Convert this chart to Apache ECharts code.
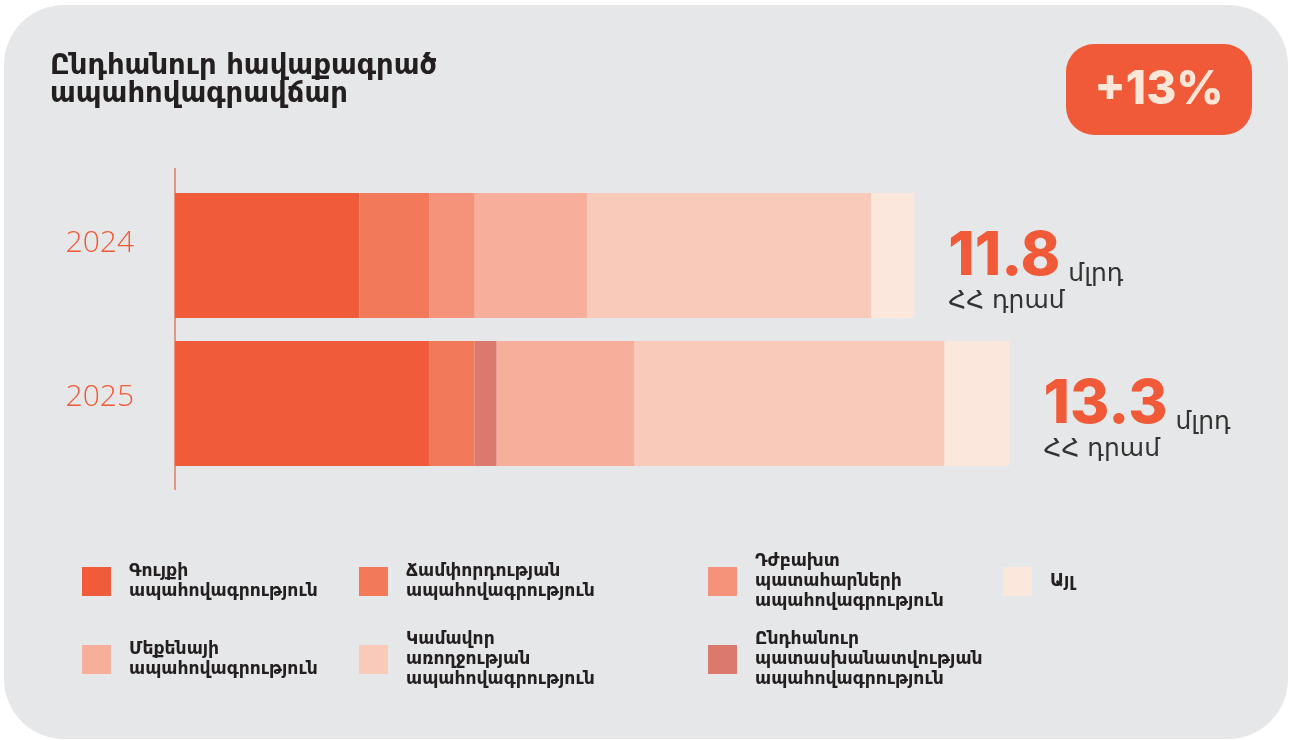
<!DOCTYPE html>
<html>
<head>
<meta charset="utf-8">
<script src="https://cdn.jsdelivr.net/npm/echarts@6/dist/echarts.min.js"></script>
<style>
  html, body { margin: 0; padding: 0; background: #fff; }
  #chart { width: 1290px; height: 740px; }
</style>
</head>
<body>
<div id="chart"></div>
<script>
// values in bln AMD
const years = ['2024', '2025'];
const property = [2.94, 4.05];
const travel = [1.12, 0.73];
const accident = [0.72, 0];
const liability = [0, 0.35];
const car = [1.79, 2.20];
const health = [4.53, 4.94];
const other = [0.69, 1.04];
const totals = [11.8, 13.3];
const growth = '+13%';

const ARM = "'DejaVu Sans', sans-serif";
const ORANGE = '#F05A38';

const names = {
  property: 'Գույքի\nապահովագրություն',
  travel: 'Ճամփորդության\nապահովագրություն',
  accident: 'Դժբախտ\nպատահարների\nապահովագրություն',
  liability: 'Ընդհանուր\nպատասխանատվության\nապահովագրություն',
  car: 'Մեքենայի\nապահովագրություն',
  health: 'Կամավոր\nառողջության\nապահովագրություն',
  other: 'Այլ'
};

const colors = {
  property: '#F05B39',
  travel: '#F27A5B',
  accident: '#F5937A',
  liability: '#DB7A6C',
  car: '#F7AF9C',
  health: '#F9C9BA',
  other: '#FBE7DB'
};

const seriesOrder = [
  ['property', property],
  ['travel', travel],
  ['accident', accident],
  ['liability', liability],
  ['car', car],
  ['health', health],
  ['other', other]
];

const series = seriesOrder.map(([key, data]) => {
  const s = {
    name: names[key],
    type: 'bar',
    stack: 'total',
    barWidth: 125,
    data: data,
    itemStyle: { color: colors[key] },
    emphasis: { disabled: true }
  };
  if (key === 'other') {
    s.label = {
      show: true,
      position: 'right',
      distance: 34,
      offset: [0, 16],
      formatter: (p) => '{big|' + totals[p.dataIndex] + '}{u| մլրդ}\n{u2|ՀՀ դրամ}',
      rich: {
        big: { fontFamily: 'Inter', fontWeight: 800, fontSize: 60, lineHeight: 60, color: ORANGE },
        u: { fontFamily: ARM, fontSize: 25, lineHeight: 36, verticalAlign: 'bottom', color: '#333333' },
        u2: { fontFamily: ARM, fontSize: 25, lineHeight: 30, color: '#333333' }
      }
    };
  }
  return s;
});

// legend placement: [key, icon left, row center]
const legendSlots = [
  ['property', 82, 581.5],
  ['travel', 359, 581.5],
  ['accident', 708, 581.5],
  ['other', 1003, 581.5],
  ['car', 82, 659.5],
  ['health', 359, 659.5],
  ['liability', 708, 659.5]
];

const legends = legendSlots.map(([key, x, cy]) => {
  const lines = names[key].split('\n').length;
  const h = Math.max(29, lines * 20);
  return {
    data: [{ name: names[key], icon: 'rect' }],
    left: x,
    top: cy - h / 2,
    padding: 0,
    itemWidth: 29,
    itemHeight: 29,
    selectedMode: false,
    textStyle: {
      fontFamily: ARM,
      fontWeight: 'bold',
      fontSize: 17.2,
      lineHeight: 20,
      color: '#231F20',
      padding: [0, 0, 0, 13]
    }
  };
});

const chart = echarts.init(document.getElementById('chart'));
chart.setOption({
  backgroundColor: '#ffffff',
  animation: false,
  title: {
    text: 'Ընդհանուր հավաքագրած\nապահովագրավճար',
    left: 50,
    top: 53,
    padding: 0,
    textStyle: { fontFamily: ARM, fontWeight: 'bold', fontSize: 27.5, lineHeight: 28, color: '#231F20' }
  },
  legend: legends,
  grid: { left: 175, top: 181.5, width: 1066, height: 296 },
  xAxis: { type: 'value', min: 0, max: 17, show: false },
  yAxis: {
    type: 'category',
    inverse: true,
    data: years,
    axisLine: { show: false },
    axisTick: { show: false },
    axisLabel: {
      margin: 41,
      formatter: (v, i) => (i === 0 ? '{a|' + v + '}' : '{b|' + v + '}'),
      rich: {
        a: { fontFamily: "'Open Sans'", fontWeight: 300, fontSize: 30, color: ORANGE, padding: [0, 0, 24, 0] },
        b: { fontFamily: "'Open Sans'", fontWeight: 300, fontSize: 30, color: ORANGE, padding: [0, 0, 12, 0] }
      }
    }
  },
  graphic: [
    {
      type: 'rect', z: -10, silent: true,
      shape: { x: 4, y: 5, width: 1284, height: 734, r: 60 },
      style: { fill: '#E6E7E8' }
    },
    {
      type: 'line', z: 1, silent: true,
      shape: { x1: 175, y1: 168, x2: 175, y2: 490 },
      style: { stroke: ORANGE, lineWidth: 1.2 }
    },
    {
      type: 'rect', z: 1, silent: true,
      shape: { x: 1066, y: 44, width: 186, height: 91, r: 28 },
      style: { fill: ORANGE }
    },
    {
      type: 'text', z: 2, silent: true,
      x: 1159, y: 90,
      style: {
        text: growth, fill: '#FCE6D8', align: 'center', verticalAlign: 'middle',
        font: "800 46px Inter"
      }
    }
  ],
  series: series
});
</script>
</body>
</html>
